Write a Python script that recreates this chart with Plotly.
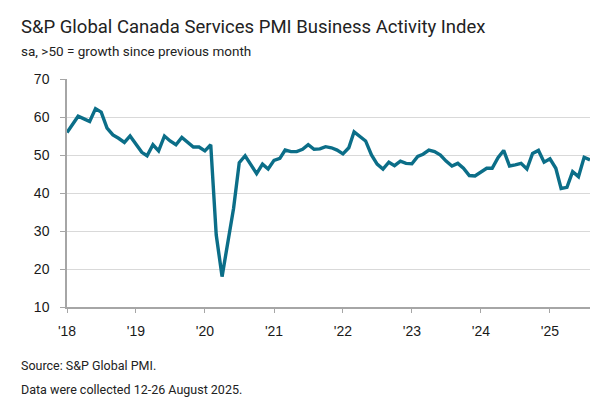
import plotly.graph_objects as go
import pandas as pd

start_month = "2018-01-01"
pmi_values = [
    55.9, 58.1, 60.2, 59.5, 58.8, 62.2, 61.3, 57.1, 55.3, 54.4, 53.3, 55.0,
    52.7, 50.7, 49.8, 52.7, 51.1, 55.0, 53.7, 52.7, 54.6, 53.3, 52.1, 52.1,
    51.1, 52.7, 29.0, 18.0, 27.5, 36.0, 48.0, 49.8, 47.4, 45.1, 47.6, 46.3,
    48.6, 49.1, 51.3, 50.9, 50.9, 51.5, 52.7, 51.5, 51.6, 52.2, 51.9, 51.3,
    50.3, 51.9, 56.1, 55.0, 53.7, 50.0, 47.6, 46.3, 48.1, 47.2, 48.4, 47.8,
    47.7, 49.6, 50.2, 51.3, 50.9, 50.0, 48.4, 47.1, 47.8, 46.5, 44.6, 44.5,
    45.6, 46.5, 46.5, 49.3, 51.2, 47.1, 47.4, 47.8, 46.3, 50.4, 51.2, 48.1,
    49.0, 46.5, 41.2, 41.5, 45.6, 44.3, 49.4, 48.7,
]
months = pd.date_range(start_month, periods=len(pmi_values), freq="MS")

year_ticks = ["2018-01-01", "2019-01-01", "2020-01-01", "2021-01-01",
              "2022-01-01", "2023-01-01", "2024-01-01", "2025-01-01"]
year_labels = ["'18", "'19", "'20", "'21", "'22", "'23", "'24", "'25"]
y_ticks = [10, 20, 30, 40, 50, 60, 70]

title_text = "S&P Global Canada Services PMI Business Activity Index"
subtitle_text = "sa, >50 = growth since previous month"
source_text = "Source: S&P Global PMI."
note_text = "Data were collected 12-26 August 2025."

W, H = 614, 398
l, r, t, b = 59, 32, 71, 99
pw, ph = W - l - r, H - t - b

def px(xp):
    return (xp - l) / pw

def py(yp):
    return (H - b - yp) / ph

fig = go.Figure()
fig.add_trace(go.Scatter(
    x=months, y=pmi_values, mode="lines",
    line=dict(color="#0B6E88", width=3.4),
    hoverinfo="x+y", showlegend=False,
))

axis_font = dict(family="Liberation Sans, Arial, sans-serif", size=14, color="#1a1a1a")

fig.update_layout(
    width=W, height=H,
    margin=dict(l=l, r=r, t=t, b=b),
    paper_bgcolor="white", plot_bgcolor="white",
    xaxis=dict(
        range=[months[0], months[-1]],
        tickvals=year_ticks, ticktext=year_labels,
        ticks="outside", ticklen=4, tickcolor="#a6a6a6", tickwidth=1,
        showline=True, linecolor="#a6a6a6", linewidth=1.5,
        showgrid=False, zeroline=False,
        tickfont=axis_font, ticklabelstandoff=6,
    ),
    yaxis=dict(
        range=[10, 70], tickvals=y_ticks,
        ticks="outside", ticklen=5, tickcolor="#a6a6a6", tickwidth=1,
        showline=True, linecolor="#a6a6a6", linewidth=1.5,
        showgrid=True, gridcolor="#d9d9d9", gridwidth=1,
        zeroline=False, tickfont=axis_font, ticklabelstandoff=8,
    ),
)

txt_font = "Roboto, Noto Sans, sans-serif"
fig.add_annotation(text=title_text, x=px(11), y=py(19), xref="paper", yref="paper",
                   xanchor="left", yanchor="middle", showarrow=False,
                   font=dict(family=txt_font, size=18.5, color="#222222"))
fig.add_annotation(text=subtitle_text, x=px(11), y=py(43), xref="paper", yref="paper",
                   xanchor="left", yanchor="middle", showarrow=False,
                   font=dict(family=txt_font, size=13.5, color="#222222"))
fig.add_annotation(text=source_text, x=px(11), y=py(357), xref="paper", yref="paper",
                   xanchor="left", yanchor="middle", showarrow=False,
                   font=dict(family=txt_font, size=12.5, color="#222222"))
fig.add_annotation(text=note_text, x=px(11), y=py(381), xref="paper", yref="paper",
                   xanchor="left", yanchor="middle", showarrow=False,
                   font=dict(family=txt_font, size=12.5, color="#222222"))

fig.write_html("out.html")
